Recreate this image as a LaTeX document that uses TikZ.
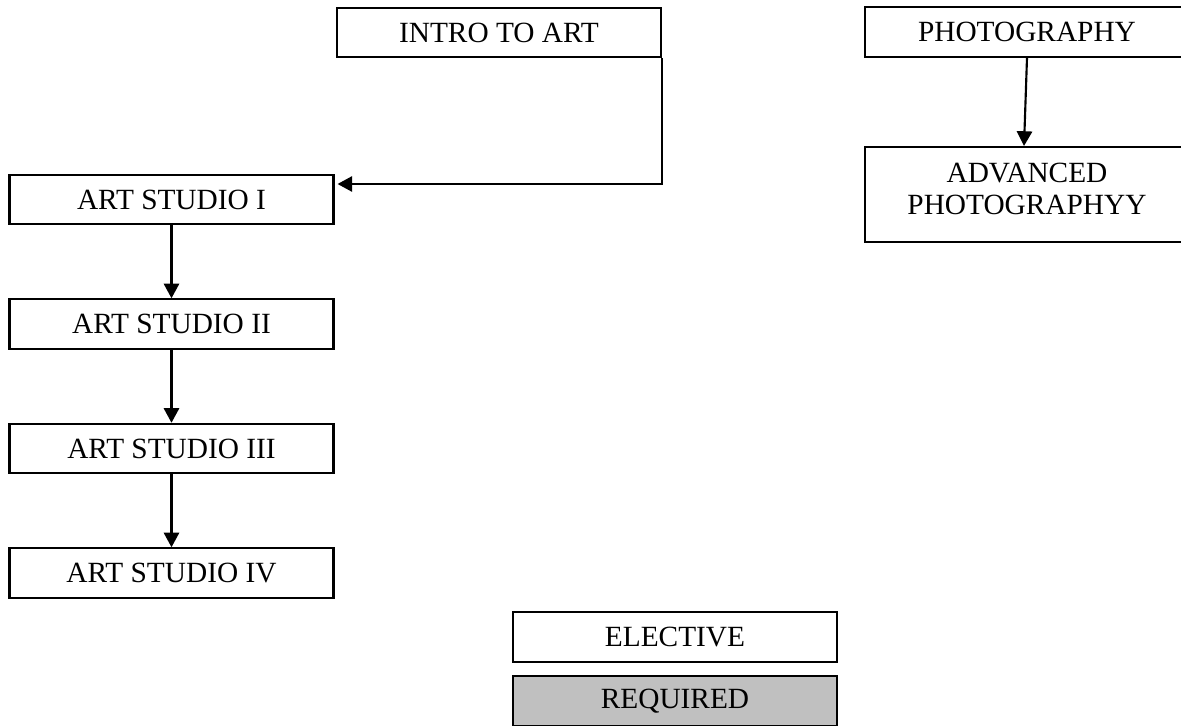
\documentclass[tikz,border=0pt]{standalone}
\usepackage{fontspec}
\setmainfont{Liberation Serif}
\usetikzlibrary{arrows.meta,calc}
\definecolor{reqgray}{HTML}{C0C0C0}
\begin{document}
\begin{tikzpicture}[x=0.75pt,y=-0.75pt,
  course/.style={draw=black,line width=1.6pt,fill=white,inner sep=0pt,
    minimum width=243pt,minimum height=37pt,align=center,
    font=\fontsize{22pt}{24pt}\selectfont},
  tallcourse/.style={course,minimum height=71.25pt,text depth=8pt},
  required/.style={course,fill=reqgray},
  link/.style={line width=1.6pt,-{Triangle[length=11pt,width=11.5pt]}}]
  \clip (0,0) rectangle (1181,725);
  \fill[white] (0,0) rectangle (1181,725);

  % art track
  \node[course] (intro) at (499,32.5) {INTRO TO ART};
  \node[course] (as1) at (171.5,199.5) {ART STUDIO I};
  \node[course] (as2) at (171.5,324) {ART STUDIO II};
  \node[course] (as3) at (171.5,448.5) {ART STUDIO III};
  \node[course] (as4) at (171.5,573) {ART STUDIO IV};

  % photography track
  \node[course] (photo) at (1027,32) {PHOTOGRAPHY};
  \node[tallcourse] (adv) at (1027,194.5) {ADVANCED\\PHOTOGRAPHYY};

  % legend
  \node[course] (elective) at (675,637) {ELECTIVE};
  \node[required] (req) at (675,701) {REQUIRED};

  % prerequisites
  \draw[link] (intro.south east) |- ($(as1.east)+(3,-15.5)$);
  \draw[link] (as1.south) -- (as2.north);
  \draw[link] (as2.south) -- (as3.north);
  \draw[link] (as3.south) -- (as4.north);
  \draw[link] (photo.south) -- ($(adv.north)+(-3,0)$);
\end{tikzpicture}
\end{document}
